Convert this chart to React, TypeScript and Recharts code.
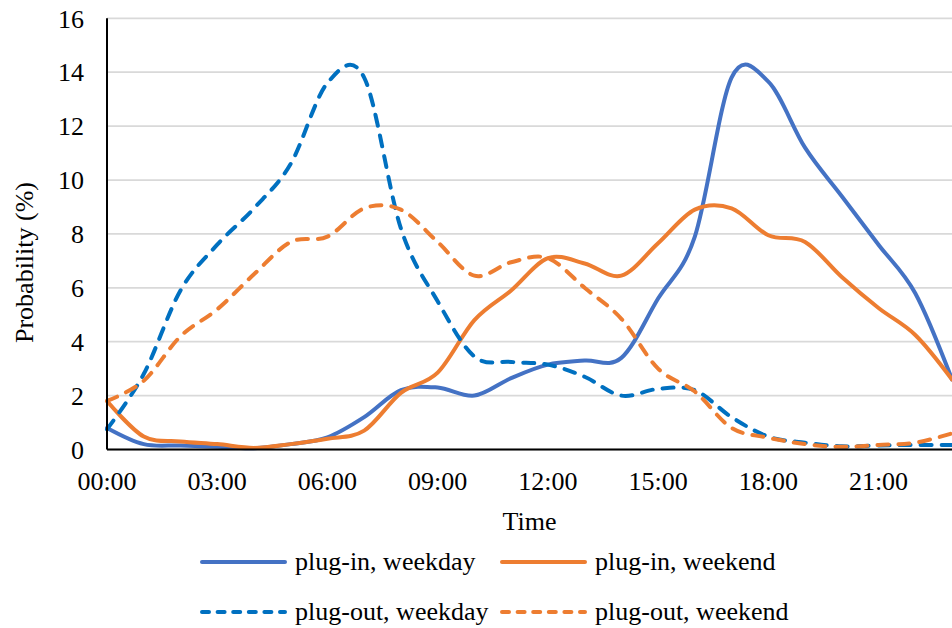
import React from 'react';
import { LineChart, Line, XAxis, YAxis, CartesianGrid, Legend } from 'recharts';

// ---------- data ----------
const hours = [0, 1, 2, 3, 4, 5, 6, 7, 8, 9, 10, 11, 12, 13, 14, 15, 16, 17, 18, 19, 20, 21, 22, 23];
const xTicks = [0, 3, 6, 9, 12, 15, 18, 21];
const xTickLabels = ['00:00', '03:00', '06:00', '09:00', '12:00', '15:00', '18:00', '21:00'];
const yTicks = [0, 2, 4, 6, 8, 10, 12, 14, 16];

const pluginWeekday = [0.8, 0.2, 0.15, 0.1, 0.05, 0.2, 0.45, 1.2, 2.2, 2.3, 2.0, 2.65, 3.15, 3.3, 3.4, 5.6, 7.9, 13.8, 13.65, 11.2, 9.4, 7.6, 5.8, 2.6];
const pluginWeekend = [1.8, 0.48, 0.3, 0.2, 0.06, 0.2, 0.4, 0.7, 2.1, 2.85, 4.8, 5.9, 7.1, 6.9, 6.45, 7.65, 8.9, 8.95, 7.95, 7.7, 6.4, 5.25, 4.25, 2.6];
const plugoutWeekday = [0.75, 2.8, 5.9, 7.6, 8.95, 10.6, 13.6, 13.8, 8.2, 5.5, 3.45, 3.25, 3.15, 2.7, 2.0, 2.25, 2.2, 1.2, 0.48, 0.25, 0.12, 0.15, 0.17, 0.17];
const plugoutWeekend = [1.8, 2.55, 4.2, 5.2, 6.5, 7.7, 7.9, 8.95, 8.9, 7.7, 6.45, 6.95, 7.1, 6.0, 4.85, 3.0, 2.15, 0.8, 0.44, 0.2, 0.1, 0.17, 0.25, 0.6];

const seriesNames = ['plug-in, weekday', 'plug-in, weekend', 'plug-out, weekday', 'plug-out, weekend'];
const seriesKeys = ['pinWd', 'pinWe', 'poutWd', 'poutWe'];
const seriesColors = ['#4472C4', '#ED7D31', '#0070C0', '#ED7D31'];
const seriesDashed = [false, false, true, true];

const data = hours.map((h, i) => ({
  hour: h,
  pinWd: pluginWeekday[i],
  pinWe: pluginWeekend[i],
  poutWd: plugoutWeekday[i],
  poutWe: plugoutWeekend[i],
}));

// ---------- Excel-like smoothing (Catmull-Rom / cardinal, tension 0) ----------
function smoothCurve(context: any) {
  let x0 = NaN, x1 = NaN, x2 = NaN, y0 = NaN, y1 = NaN, y2 = NaN, pointCount = 0;
  const k = 1 / 6;
  const seg = (x: number, y: number) => {
    context.bezierCurveTo(
      x1 + k * (x2 - x0),
      y1 + k * (y2 - y0),
      x2 + k * (x1 - x),
      y2 + k * (y1 - y),
      x2,
      y2
    );
  };
  return {
    areaStart() {},
    areaEnd() {},
    lineStart() {
      x0 = x1 = x2 = y0 = y1 = y2 = NaN;
      pointCount = 0;
    },
    lineEnd() {
      if (pointCount === 2) context.lineTo(x2, y2);
      else if (pointCount === 3) seg(x1, y1);
    },
    point(xv: number, yv: number) {
      const x = +xv;
      const y = +yv;
      if (pointCount === 0) {
        pointCount = 1;
        context.moveTo(x, y);
      } else if (pointCount === 1) {
        pointCount = 2;
        x1 = x;
        y1 = y;
      } else {
        pointCount = 3;
        seg(x, y);
      }
      x0 = x1; x1 = x2; x2 = x;
      y0 = y1; y1 = y2; y2 = y;
    },
  };
}

const FONT = '"Liberation Serif", "Times New Roman", serif';
const tickStyle = { fill: '#000', fontSize: 26, fontFamily: FONT };

const CHART_W = 952;
const CHART_H = 628;

const legendPos = [
  { left: 200, center: 562 },
  { left: 500, center: 562 },
  { left: 200, center: 612 },
  { left: 500, center: 612 },
];

function renderLegend() {
  return (
    <div style={{ position: 'relative', width: CHART_W, height: CHART_H }}>
      {seriesNames.map((name, i) => (
        <div
          key={name}
          style={{
            position: 'absolute',
            left: legendPos[i].left,
            top: legendPos[i].center - 15,
            height: 30,
            display: 'flex',
            alignItems: 'center',
            whiteSpace: 'nowrap',
          }}
        >
          <svg width={87} height={8} style={{ display: 'block' }}>
            <line
              x1={2}
              y1={4}
              x2={85}
              y2={4}
              stroke={seriesColors[i]}
              strokeWidth={4}
              strokeLinecap="round"
              strokeDasharray={seriesDashed[i] ? '7 8.6' : undefined}
            />
          </svg>
          <span
            style={{
              marginLeft: 8,
              fontFamily: FONT,
              fontSize: 26,
              lineHeight: '30px',
              color: '#000',
            }}
          >
            {name}
          </span>
        </div>
      ))}
    </div>
  );
}

const renderXLabel = (props: any) => {
  const vb = props.viewBox || {};
  return (
    <text
      x={vb.x + vb.width / 2}
      y={vb.y + 80.5}
      textAnchor="middle"
      fontFamily={FONT}
      fontSize={26}
      fill="#000"
    >
      Time
    </text>
  );
};

const renderYLabel = (props: any) => {
  const vb = props.viewBox || {};
  const cx = vb.x - 14;
  const cy = vb.y + vb.height / 2 + 28.6;
  return (
    <text
      transform={`translate(${cx}, ${cy}) rotate(-90)`}
      x={0}
      y={0}
      textAnchor="middle"
      fontFamily={FONT}
      fontSize={26}
      fill="#000"
    >
      Probability (%)
    </text>
  );
};

export default function App() {
  return (
    <div
      style={{
        position: 'fixed',
        left: 0,
        top: 0,
        width: CHART_W,
        height: CHART_H,
        overflow: 'hidden',
        background: '#fff',
      }}
    >
      <LineChart
        width={CHART_W}
        height={CHART_H}
        data={data}
        margin={{ top: 18.3, right: 0, left: 47, bottom: 148.5 }}
      >
        <CartesianGrid vertical={false} stroke="#D9D9D9" strokeWidth={1.75} />
        <XAxis
          type="number"
          dataKey="hour"
          domain={[0, 23]}
          ticks={xTicks}
          interval={0}
          tickFormatter={(v: number) => xTickLabels[xTicks.indexOf(v)]}
          height={30}
          tickSize={0}
          tickLine={false}
          tickMargin={22}
          axisLine={{ stroke: '#000', strokeWidth: 2 }}
          tick={tickStyle}
          label={renderXLabel}
        />
        <YAxis
          type="number"
          domain={[0, 16]}
          ticks={yTicks}
          interval={0}
          width={60}
          tickSize={0}
          tickLine={false}
          tickMargin={23}
          axisLine={{ stroke: '#000', strokeWidth: 2 }}
          tick={tickStyle}
          label={renderYLabel}
        />
        {seriesKeys.map((key, i) => (
          <Line
            key={key}
            dataKey={key}
            name={seriesNames[i]}
            type={smoothCurve as any}
            stroke={seriesColors[i]}
            strokeWidth={4}
            strokeDasharray={seriesDashed[i] ? '11 10' : undefined}
            strokeLinecap="round"
            strokeLinejoin="round"
            dot={false}
            activeDot={false}
            isAnimationActive={false}
          />
        ))}
        <Legend
          layout="horizontal"
          verticalAlign="middle"
          align="center"
          wrapperStyle={{ top: 0, left: 0, width: CHART_W, height: CHART_H, pointerEvents: 'none' }}
          content={renderLegend}
        />
      </LineChart>
    </div>
  );
}
